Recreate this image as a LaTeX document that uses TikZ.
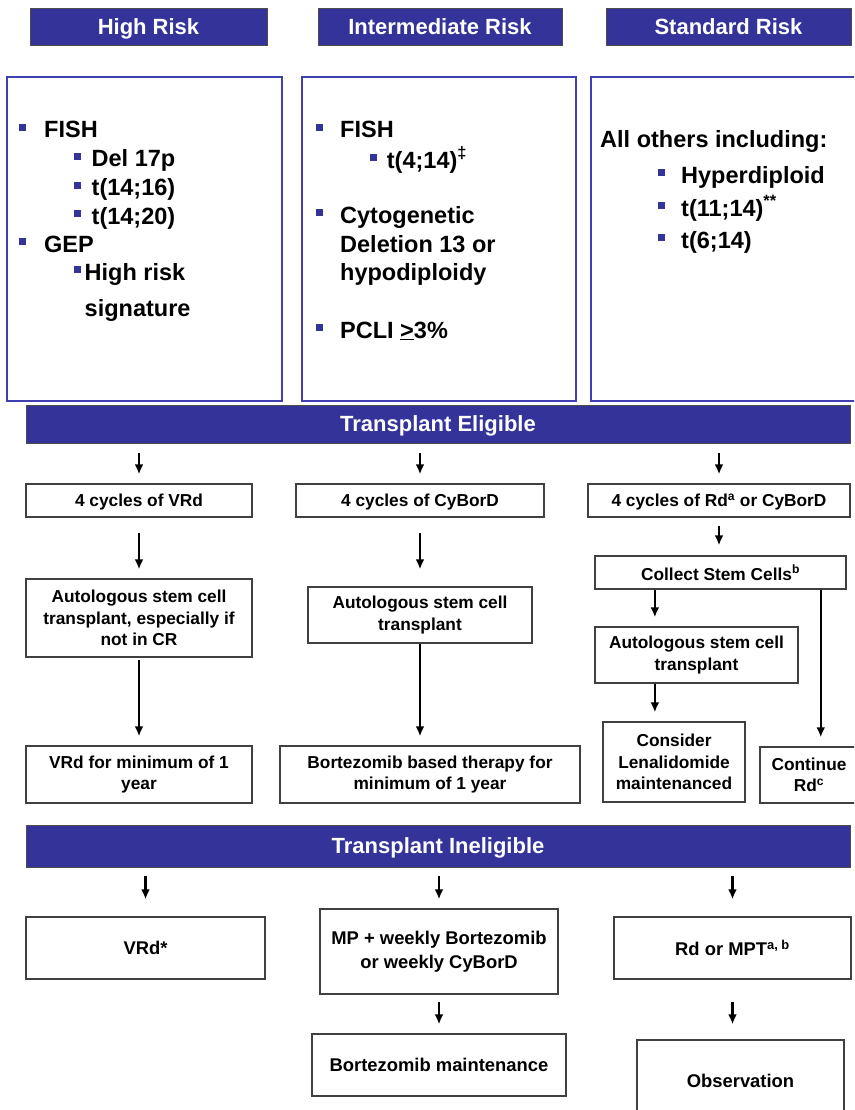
\documentclass[tikz,border=0pt]{standalone}
\usepackage{fontspec}
\setmainfont{Liberation Sans}
\usetikzlibrary{arrows.meta,calc}

\definecolor{riskblue}{RGB}{51,51,153}
\definecolor{riskline}{RGB}{64,64,176}

\newcommand{\hdrfont}{\fontsize{22}{26}\selectfont\bfseries}
\newcommand{\itemfont}{\fontsize{23.5}{28}\selectfont\bfseries}
\newcommand{\stepfont}{\fontsize{17.3}{21.5}\selectfont\bfseries}
\newcommand{\lowfont}{\fontsize{18.4}{24}\selectfont\bfseries}

\tikzset{
  header/.style={fill=riskblue, draw=black!70, line width=0.8pt, text=white, font=\hdrfont,
    inner sep=0pt, text height=15.7pt, text depth=0pt},
  riskbox/.style={draw=riskline, line width=1.6pt, inner sep=0pt},
  stepbox/.style={draw=black!75, line width=1.5pt, fill=white, font=\stepfont, align=center, inner sep=0pt},
  oneline/.style={text depth=0pt},
  item/.style={anchor=base west, font=\itemfont, inner sep=0pt},
  bullet/.style={fill=riskblue, minimum size=7pt, inner sep=0pt},
  flow/.style={-{Latex[length=10pt,width=9pt]}, line width=2.2pt},
}

\begin{document}
\begin{tikzpicture}[x=1pt, y=-1pt]
  \clip (0,0) rectangle (854,1110);

  % Risk headers
  \node[header, minimum width=237, minimum height=37] (hrisk) at (148.5,26.5) {High Risk};
  \node[header, minimum width=244, minimum height=37] (irisk) at (440,26.5) {Intermediate Risk};
  \node[header, minimum width=245, minimum height=37] (srisk) at (728.5,26.5) {Standard Risk};

  % Risk frames
  \node[riskbox, minimum width=275, minimum height=324] (hibox) at (144.5,239) {};
  \node[riskbox, minimum width=274, minimum height=324] (inbox) at (439,239) {};
  \node[riskbox, minimum width=279, minimum height=324] (stbox) at (730.5,239) {};

  % Bullets
  \foreach \i/\x/\y in {1/22.5/127.5, 2/77/156.5, 3/77/185.5, 4/77/213.5, 5/22.5/241.5, 6/77/269.5,
                        7/319/127.5, 8/373/157.5, 9/319/212.5, 10/319/327.5,
                        11/661/172.5, 12/661/205.5, 13/661/237.5}
    \node[bullet] (dot\i) at (\x,\y) {};

  % Risk items
  \foreach \n/\x/\y/\t in {hfish/44/138/FISH, hdel/91.5/167/Del 17p, hsix/91.5/196/t(14;16),
                           htwenty/91.5/224/t(14;20), hgep/44/252/GEP, hsiga/84.5/280/High risk,
                           hsigb/84.5/316/signature,
                           ifish/340/138/FISH, ifour/386.7/168/t(4;14)\textsuperscript{‡},
                           icyta/340/223/Cytogenetic, icytb/340/252/Deletion 13 or,
                           icytc/340/280/hypodiploidy, ipcli/340/338/PCLI \underline{>}3\%,
                           sall/600/148/All others including:, shyp/681/183/Hyperdiploid,
                           seleven/681/216/t(11;14)\textsuperscript{**}, ssix/681/248/t(6;14)}
    \node[item] (\n) at (\x,\y) {\t};

  % Transplant eligible
  \node[header, minimum width=824, minimum height=38] (elig) at (438,424) {Transplant Eligible};
  \node[stepbox, oneline, minimum width=226, minimum height=33] (vrd4) at (139,500.5) {4 cycles of VRd};
  \node[stepbox, oneline, minimum width=248, minimum height=33] (cyc4) at (420,500.5) {4 cycles of CyBorD};
  \node[stepbox, oneline, minimum width=262, minimum height=33] (rd4) at (719,500.5) {4 cycles of Rd\textsuperscript{a} or CyBorD};
  \node[stepbox, minimum width=226, minimum height=78] (asct1) at (139,618) {Autologous stem cell\\transplant, especially if\\not in CR};
  \node[stepbox, minimum width=224, minimum height=56] (asct2) at (420,615) {Autologous stem cell\\transplant};
  \node[stepbox, oneline, minimum width=251, minimum height=33] (collect) at (720.5,572.5) {Collect Stem Cells\textsuperscript{b}};
  \node[stepbox, minimum width=203, minimum height=56] (asct3) at (696.5,655) {Autologous stem cell\\transplant};
  \node[stepbox, minimum width=226, minimum height=57] (vrdyear) at (139,774.5) {VRd for minimum of 1\\year};
  \node[stepbox, minimum width=300, minimum height=57] (bort) at (430,774.5) {Bortezomib based therapy for\\minimum of 1 year};
  \node[stepbox, minimum width=142, minimum height=80] (lenal) at (674,762) {Consider\\Lenalidomide\\maintenanced};
  \node[stepbox, minimum width=98, minimum height=56] (contrd) at (809,775) {Continue\\Rd\textsuperscript{c}};

  % Transplant ineligible
  \node[header, minimum width=824, minimum height=42] (inelig) at (438,846) {Transplant Ineligible};
  \node[stepbox, oneline, font=\lowfont, minimum width=239, minimum height=62] (vrdstar) at (145.5,948) {VRd*};
  \node[stepbox, font=\lowfont, minimum width=238, minimum height=85] (mpbor) at (439,951.5) {MP + weekly Bortezomib\\or weekly CyBorD};
  \node[stepbox, oneline, font=\lowfont, minimum width=237, minimum height=62] (rdmpt) at (732.5,948) {Rd or MPT\textsuperscript{a, b}};
  \node[stepbox, oneline, font=\lowfont, minimum width=254, minimum height=62] (bortm) at (439,1065) {Bortezomib maintenance};
  \node[stepbox, oneline, font=\lowfont, minimum width=207, minimum height=82] (observ) at (740.5,1081) {Observation};

  % Arrows from the bars
  \foreach \a/\b/\s/\e in {elig/vrd4/10/9, elig/cyc4/10/9, elig/rd4/10/9,
                           inelig/vrdstar/9/17, inelig/mpbor/9/9, inelig/rdmpt/9/17}
    \draw[flow, shorten <=\s, shorten >=\e] (\a.south -| \b) -- (\b.north);

  % Arrows between boxes
  \foreach \a/\b/\s/\e in {vrd4/asct1/15/9, cyc4/asct2/15/17, rd4/collect/8/10,
                           asct1/vrdyear/2/9, asct2/bort/0/9, mpbor/bortm/7/9, rdmpt/observ/22/15}
    \draw[flow, shorten <=\s, shorten >=\e] (\a.south) -- (\a.south |- \b.north);

  % Split after stem cell collection
  \coordinate (split) at ($(collect.south west)!0.24!(collect.south east)$);
  \coordinate (skip) at ($(collect.south east)+(-26,0)$);
  \draw[flow, shorten >=9] (split) -- (asct3.north -| split);
  \draw[flow, shorten >=9] (asct3.south -| split) -- (lenal.north -| split);
  \draw[flow, shorten >=9] (skip) -- (contrd.north -| skip);
\end{tikzpicture}
\end{document}
